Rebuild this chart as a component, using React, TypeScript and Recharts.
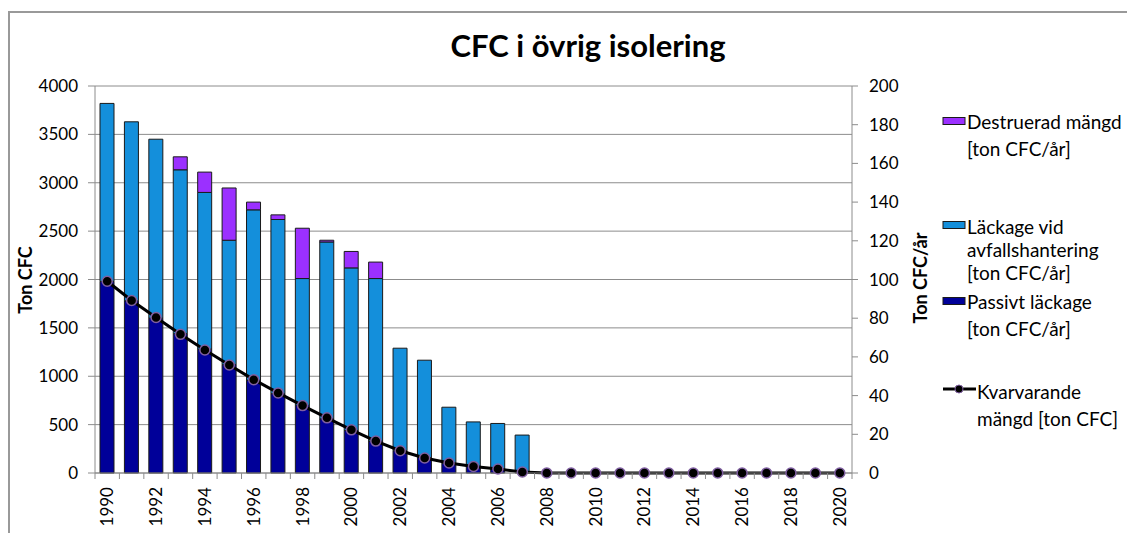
import React from 'react';
import { ComposedChart, Bar, Line, XAxis, YAxis, CartesianGrid } from 'recharts';

const years = [
  '1990', '1991', '1992', '1993', '1994', '1995', '1996', '1997', '1998', '1999',
  '2000', '2001', '2002', '2003', '2004', '2005', '2006', '2007', '2008', '2009',
  '2010', '2011', '2012', '2013', '2014', '2015', '2016', '2017', '2018', '2019', '2020',
];

// ton CFC/år (right axis)
const passivt = [99, 89, 80, 72, 64, 56, 48, 41, 35, 28, 22, 16.5, 11.5, 8, 5, 3.4, 2, 0.5, 0, 0, 0, 0, 0, 0, 0, 0, 0, 0, 0, 0, 0];
const avfall = [92, 92.5, 92.5, 84.7, 81, 64.3, 88, 90, 65.5, 91.4, 84, 84, 53, 50.3, 29, 23, 23.6, 19.1, 0, 0, 0, 0, 0, 0, 0, 0, 0, 0, 0, 0, 0];
const destruerad = [0, 0, 0, 6.7, 10.5, 27, 4, 2.4, 26, 0.9, 8.5, 8.5, 0, 0, 0, 0, 0, 0, 0, 0, 0, 0, 0, 0, 0, 0, 0, 0, 0, 0, 0];

// ton CFC (left axis)
const kvarvarande = [1982, 1783, 1608, 1433, 1271, 1116, 965, 828, 697, 570, 446, 330, 230, 155, 103, 68, 41, 10, 0, 0, 0, 0, 0, 0, 0, 0, 0, 0, 0, 0, 0];

const leftTicks = [0, 500, 1000, 1500, 2000, 2500, 3000, 3500, 4000];
const rightTicks = [0, 20, 40, 60, 80, 100, 120, 140, 160, 180, 200];

const data = years.map((year, i) => ({
  year,
  passivt: passivt[i],
  avfall: avfall[i],
  destruerad: destruerad[i],
  kvarvarande: kvarvarande[i],
}));

const FONT = 'Lato, "Open Sans", sans-serif';
const GRID = '#8c8c8c';
const DARK = '#000099';
const LIGHT = '#148fdb';
const PURPLE = '#9b30ff';

const W = 1125;
const H = 520;
const margin = { top: 73, right: 223, bottom: 0, left: 25 };
const AXIS_W = 60;
const band = (W - margin.left - margin.right - 2 * AXIS_W) / years.length;

const YearTick = (props: any) => {
  const { x, y, payload, index } = props;
  const bx = x - band / 2;
  return (
    <g>
      <line x1={bx} y1={y} x2={bx} y2={y + 6} stroke={GRID} />
      {index === years.length - 1 && (
        <line x1={x + band / 2} y1={y} x2={x + band / 2} y2={y + 6} stroke={GRID} />
      )}
      {index % 2 === 0 && (
        <text
          x={x}
          y={y + 14}
          dy="0.35em"
          textAnchor="end"
          transform={`rotate(-90, ${x}, ${y + 14})`}
          fontSize={17}
          fontFamily={FONT}
          fill="#000"
        >
          {payload.value}
        </text>
      )}
    </g>
  );
};

export default function App() {
  const legendText = { fontSize: 19, fontFamily: FONT, fill: '#000' };
  return (
    <div
      style={{
        position: 'relative',
        marginTop: 3,
        width: W,
        height: H,
        borderTop: '2px solid #999',
        borderLeft: '2px solid #999',
        background: '#fff',
      }}
    >
      <style>{`html, body { overflow: hidden; }`}</style>
      <ComposedChart width={W} height={H} data={data} margin={margin} barSize={14}>
        <CartesianGrid yAxisId="left" vertical={false} stroke={GRID} />
        <XAxis
          dataKey="year"
          interval={0}
          height={60}
          tickSize={0}
          tickMargin={0}
          tickLine={false}
          axisLine={{ stroke: GRID }}
          tick={<YearTick />}
        />
        <YAxis
          yAxisId="left"
          domain={[0, 4000]}
          ticks={leftTicks}
          width={AXIS_W}
          tickSize={7}
          tickMargin={10}
          axisLine={{ stroke: GRID }}
          tickLine={{ stroke: GRID }}
          tick={{ fontSize: 17, fontFamily: FONT, fill: '#000' }}
        />
        <YAxis
          yAxisId="right"
          orientation="right"
          domain={[0, 200]}
          ticks={rightTicks}
          width={AXIS_W}
          tickSize={6}
          tickMargin={11}
          axisLine={{ stroke: GRID }}
          tickLine={{ stroke: GRID }}
          tick={{ fontSize: 17, fontFamily: FONT, fill: '#000', textAnchor: 'start' }}
        />
        <Bar yAxisId="right" dataKey="passivt" stackId="a" fill={DARK} stroke="#1a1a1a" strokeWidth={1} isAnimationActive={false} />
        <Bar yAxisId="right" dataKey="avfall" stackId="a" fill={LIGHT} stroke="#1a1a1a" strokeWidth={1} isAnimationActive={false} />
        <Bar yAxisId="right" dataKey="destruerad" stackId="a" fill={PURPLE} stroke="#1a1a1a" strokeWidth={1} isAnimationActive={false} />
        <Line
          yAxisId="left"
          dataKey="kvarvarande"
          stroke="#000"
          strokeWidth={3}
          dot={{ r: 5, fill: '#000', stroke: '#7f5fa0', strokeWidth: 1.5 }}
          activeDot={false}
          isAnimationActive={false}
        />
      </ComposedChart>

      <svg
        width={W}
        height={H}
        style={{ position: 'absolute', left: 0, top: 0, pointerEvents: 'none' }}
      >
        <text x={578} y={44} textAnchor="middle" fontSize={31} fontWeight="bold" fontFamily={FONT} fill="#000">
          CFC i övrig isolering
        </text>
        <text
          x={15}
          y={267}
          textAnchor="middle"
          dominantBaseline="central"
          transform="rotate(-90, 15, 267)"
          fontSize={18}
          fontWeight="bold"
          fontFamily={FONT}
          fill="#000"
        >
          Ton CFC
        </text>
        <text
          x={910}
          y={265}
          textAnchor="middle"
          dominantBaseline="central"
          transform="rotate(-90, 910, 265)"
          fontSize={18}
          fontWeight="bold"
          fontFamily={FONT}
          fill="#000"
        >
          Ton CFC/år
        </text>

        <rect x={933} y={104.5} width={22} height={7} fill={PURPLE} stroke="#1a1a1a" strokeWidth={1} />
        <text x={957} y={108} dominantBaseline="central" {...legendText}>Destruerad mängd</text>
        <text x={957} y={135} dominantBaseline="central" {...legendText}>[ton CFC/år]</text>

        <rect x={933} y={208.5} width={22} height={7} fill={LIGHT} stroke="#1a1a1a" strokeWidth={1} />
        <text x={957} y={213} dominantBaseline="central" {...legendText}>Läckage vid</text>
        <text x={957} y={236} dominantBaseline="central" {...legendText}>avfallshantering</text>
        <text x={957} y={259} dominantBaseline="central" {...legendText}>[ton CFC/år]</text>

        <rect x={933} y={284.5} width={22} height={7} fill={DARK} stroke="#1a1a1a" strokeWidth={1} />
        <text x={957} y={288} dominantBaseline="central" {...legendText}>Passivt läckage</text>
        <text x={957} y={315} dominantBaseline="central" {...legendText}>[ton CFC/år]</text>

        <line x1={933} y1={376} x2={966} y2={376} stroke="#000" strokeWidth={3} />
        <circle cx={949} cy={376} r={4} fill="#000" stroke="#7f5fa0" strokeWidth={1} />
        <text x={967} y={378} dominantBaseline="central" {...legendText}>Kvarvarande</text>
        <text x={967} y={405} dominantBaseline="central" {...legendText}>mängd [ton CFC]</text>
      </svg>
    </div>
  );
}
